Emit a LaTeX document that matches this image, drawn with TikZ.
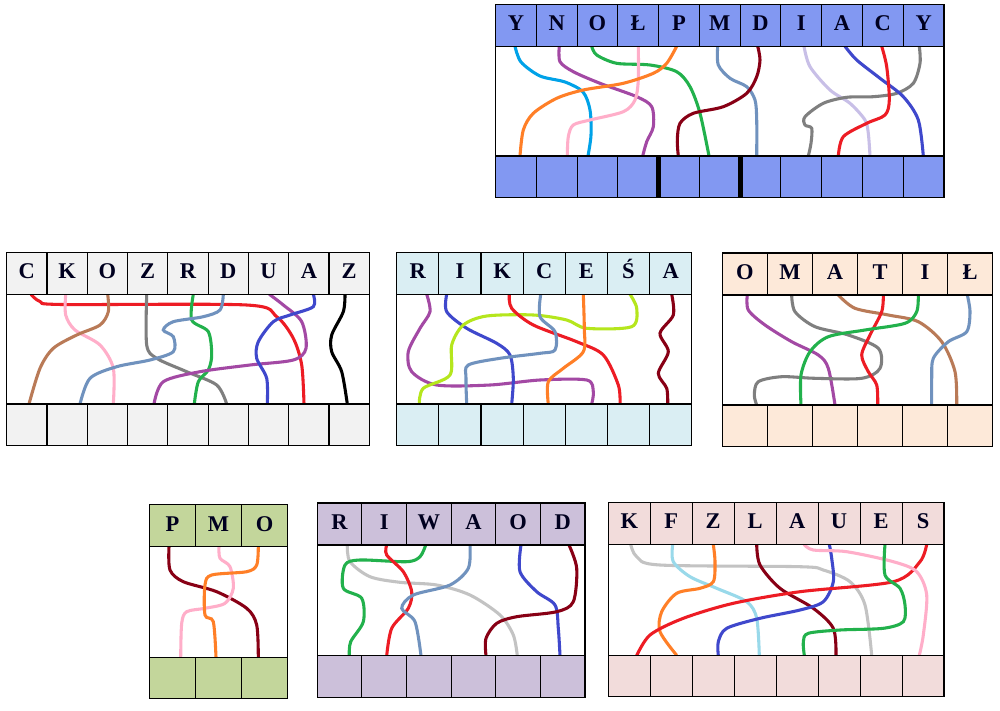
\documentclass[tikz,border=0pt]{standalone}
\usepackage{fontspec}
\setmainfont{Liberation Serif}
\definecolor{pRed}{HTML}{ED1C24}
\definecolor{pDarkRed}{HTML}{880015}
\definecolor{pOrange}{HTML}{FF7F27}
\definecolor{pGreen}{HTML}{22B14C}
\definecolor{pTurq}{HTML}{00A2E8}
\definecolor{pBlue}{HTML}{3F48CC}
\definecolor{pPurple}{HTML}{A349A4}
\definecolor{pPink}{HTML}{FFAEC9}
\definecolor{pBrown}{HTML}{B97A57}
\definecolor{pLime}{HTML}{B5E61D}
\definecolor{pLTurq}{HTML}{99D9EA}
\definecolor{pBlueGray}{HTML}{7092BE}
\definecolor{pLav}{HTML}{C8BFE7}
\definecolor{pGray}{HTML}{7F7F7F}
\definecolor{pLGray}{HTML}{C3C3C3}
\definecolor{fBlue}{RGB}{130,152,242}
\definecolor{fGray}{HTML}{F2F2F2}
\definecolor{fCyan}{HTML}{DAEEF3}
\definecolor{fPeach}{HTML}{FDE9D9}
\definecolor{fGreen}{HTML}{C3D69B}
\definecolor{fLav}{HTML}{CCC0DA}
\definecolor{fPink}{HTML}{F2DCDB}
\tikzset{
  wire/.style={line width=1.75pt},
  gridline/.style={draw=black, line width=0.6pt},
  lab/.style={anchor=base, inner sep=0pt, font=\fontsize{12.8}{13}\selectfont\bfseries, text=black!88!blue}
}
% #1 x0, #2 x1, #3 header bottom y, #4 bottom-row top y, #5 cells, #6 fill, #7 name prefix, #8 letters
\newcommand\mypanel[8]{%
  \pgfmathsetmacro\cw{(#2-#1)/#5}%
  \pgfmathtruncatemacro\nm{#5-1}%
  \fill[#6] (#1,#3-42) rectangle (#2,#3);
  \fill[#6] (#1,#4) rectangle (#2,#4+41.5);
  \foreach \i in {1,...,\nm}{%
    \draw[gridline] ({#1+\i*\cw},#3-42) -- ({#1+\i*\cw},#3);
    \draw[gridline] ({#1+\i*\cw},#4) -- ({#1+\i*\cw},#4+41.5);
  }
  \draw[gridline] (#1,#3-42) rectangle (#2,#4+41.5);
  \draw[gridline] (#1,#3) -- (#2,#3) (#1,#4) -- (#2,#4);
  \foreach \t [count=\i] in {#8}{%
    \node[lab] (#7\i) at ({#1+(\i-0.5)*\cw},#3-15.5) {\t};
  }
}
\begin{document}
\begin{tikzpicture}[x=0.02cm,y=-0.02cm]
\useasboundingbox (0,0) rectangle (1000,710);
\fill[white] (0,0) rectangle (1000,710);

% ---------- Panel 1 ----------
\draw[wire,pTurq] plot[smooth] coordinates {(515,46.3) (521,62) (540,76) (565,82) (583,92) (590,110) (591,135) (588,156)};
\draw[wire,pPurple] plot[smooth] coordinates {(559.3,46.3) (560,61.7) (573.3,71.7) (600,83.3) (636.7,96.7) (651.7,106.7) (653.3,126.7) (646.7,141.7) (642.7,156)};
\draw[wire,pGreen] plot[smooth] coordinates {(591.7,46.3) (596.7,55) (616.7,63.3) (650,65) (676.7,71.7) (690,86.7) (700,113.3) (709,156)};
\draw[wire,pPink] plot[smooth] coordinates {(638.3,46.3) (638.3,80) (635,100) (623.3,111.7) (590,120) (573.3,125) (568.3,136.7) (567.3,156)};
\draw[wire,pOrange] plot[smooth] coordinates {(676.7,46.3) (666.7,63.3) (653.3,73.3) (623.3,83.3) (583.3,90) (556.7,98.3) (533.3,113.3) (523.3,130) (520,156)};
\draw[wire,pBlueGray] plot[smooth] coordinates {(717.7,46.3) (718.3,65) (730,78.3) (746.7,86.7) (755,100) (756.7,120) (756.7,156)};
\draw[wire,pDarkRed] plot[smooth] coordinates {(757.7,46.3) (760,60) (756.7,76.7) (746.7,93.3) (723.3,106.7) (693.3,113.3) (680,123.3) (677.3,140) (678.3,156)};
\draw[wire,pLav] plot[smooth] coordinates {(804,46.3) (810,66.7) (830,90) (850,103.3) (865,120) (868.3,133.3) (870,156)};
\draw[wire,pGray] plot[smooth] coordinates {(919.3,46.3) (920,63.3) (913.3,83.3) (896.7,93.3) (873.3,96.7) (846.7,97.3) (823.3,103.3) (805,116.7) (805,125) (811.7,128.3) (811,143.3) (808.3,156)};
\draw[wire,pBlue] plot[smooth] coordinates {(845,46.3) (856.7,60) (880,78.3) (903.3,96.7) (918.3,120) (923.3,156)};
\draw[wire,pRed] plot[smooth] coordinates {(881.7,46.3) (886.7,66.7) (889.3,100) (885,115) (866.7,123.3) (843.3,136.7) (838.3,156)};
\mypanel{495.5}{944}{46.3}{156}{11}{fBlue}{a}{Y,N,O,Ł,P,M,D,I,A,C,Y}
\draw[line width=2.4pt] (658.5,156) -- (658.5,197.5);
\draw[line width=2.4pt] (740.5,156) -- (740.5,197.5);

% ---------- Panel 2 ----------
\draw[wire,pRed] plot[smooth] coordinates {(31,294.3) (40,301.5) (62,304.5) (246.7,305) (276.7,316.7) (293.3,338.3) (301.7,365) (304,404)};
\draw[wire,pPink] plot[smooth] coordinates {(65.7,294.3) (65.7,315) (75,330) (100,345) (113.3,368.3) (113.3,404)};
\draw[wire,pBrown] plot[smooth] coordinates {(107.7,294.3) (108.3,311.7) (100,325) (76.7,335) (53.3,348.3) (40,368.3) (29,404)};
\draw[wire,pGray] plot[smooth] coordinates {(146.7,294.3) (146.7,345) (156.7,358.3) (186.7,371.7) (216.7,385) (226.7,404)};
\draw[wire,pGreen] plot[smooth] coordinates {(193.3,294.3) (191.7,320) (208.3,331.7) (211.7,355) (208.3,370) (198.3,381.7) (194.3,404)};
\draw[wire,pBlueGray] plot[smooth] coordinates {(223.3,294.3) (220,310) (203.3,316.7) (173.3,321.7) (163.3,330) (173.3,336.7) (173.3,351.7) (150,360) (116.7,366.7) (90,378.3) (80,404)};
\draw[wire,pPurple] plot[smooth] coordinates {(269.3,294.3) (283.3,305) (301.7,321.7) (306,348.3) (293.3,360) (250,365) (200,371.7) (163.3,381.7) (154,404)};
\draw[wire,pBlue] plot[smooth] coordinates {(313.3,294.3) (313.3,306.7) (290,315) (273.3,321.7) (258.3,341.7) (256.7,358.3) (266.7,378.3) (267.3,404)};
\draw[wire,black] plot[smooth] coordinates {(345,294.3) (343.3,311.7) (331.7,335) (331.7,351.7) (341.7,371.7) (347.3,404)};
\mypanel{6.7}{369.3}{294.3}{404}{9}{fGray}{b}{C,K,O,Z,R,D,U,A,Z}

% ---------- Panel 3 ----------
\draw[wire,pPurple] plot[smooth] coordinates {(426.7,294.3) (430,311.7) (420,328.3) (408.3,351.7) (411.7,371.7) (436.7,385) (490,385) (540,380) (586.7,380) (593.3,391.7) (591.7,404)};
\draw[wire,pBlue] plot[smooth] coordinates {(446.7,294.3) (446.7,311.7) (466.7,328.3) (496.7,343.3) (510,355) (513.3,378.3) (511.7,404)};
\draw[wire,pLime] plot[smooth] coordinates {(630,294.3) (636.7,308.3) (631.7,326.7) (586.7,328.3) (566.7,320) (533.3,315) (486.7,316) (463.3,325) (451.7,345) (450,375) (423.3,388.3) (419.3,404)};
\draw[wire,pRed] plot[smooth] coordinates {(509.3,294.3) (511.7,308.3) (533.3,325) (576.7,341.7) (603.3,355) (618.3,385) (620,404)};
\draw[wire,pBlueGray] plot[smooth] coordinates {(540.7,294.3) (540,316.7) (555,331.7) (555,350) (540,353.3) (500,358.3) (468.3,365) (466,378.3) (466.7,404)};
\draw[wire,pOrange] plot[smooth] coordinates {(583.3,294.3) (584.3,328.3) (583.3,351.7) (563.3,368.3) (548.3,381.7) (548.3,404)};
\draw[wire,pDarkRed] plot[smooth] coordinates {(671.7,294.3) (673.3,315) (660,333.3) (668.3,351.7) (658.3,373.3) (666.7,388.3) (667.7,404)};
\mypanel{396.7}{691.7}{294.3}{404}{7}{fCyan}{c}{R,I,K,C,E,Ś,A}

% ---------- Panel 4 ----------
\draw[wire,pPurple] plot[smooth] coordinates {(747.3,295) (748.3,310) (765,325) (791.7,341.7) (818.3,355) (828.3,368.3) (835,405)};
\draw[wire,pGray] plot[smooth] coordinates {(791.7,295) (795,311.7) (815,326.7) (848.3,335) (878.3,348.3) (880,368.3) (861.7,378.3) (815,378.3) (781.7,376.7) (758.3,381.7) (754.3,395) (756.7,405)};
\draw[wire,pBrown] plot[smooth] coordinates {(838.3,295) (855,308.3) (888.3,315) (918.3,321.7) (941.7,341.7) (955,371.7) (956.7,405)};
\draw[wire,pRed] plot[smooth] coordinates {(883.3,295) (881.7,311.7) (870,335) (861.7,355) (868.3,371.7) (876.7,385) (877.7,405)};
\draw[wire,pGreen] plot[smooth] coordinates {(918.3,295) (916.7,311.7) (905,323.3) (865,330) (828.3,336.7) (810,351.7) (801,375) (801,405)};
\draw[wire,pBlueGray] plot[smooth] coordinates {(967.3,295) (970,311.7) (966.7,331.7) (948.3,341.7) (933.3,358.3) (931.7,378.3) (931.7,405)};
\mypanel{722.3}{992.7}{295}{405}{6}{fPeach}{d}{O,M,A,T,I,Ł}

% ---------- Panel 5 ----------
\draw[wire,pDarkRed] plot[smooth] coordinates {(169,546.7) (170,570) (183.3,581.7) (216.7,591.7) (246.7,608.3) (256.7,625) (258.3,657.3)};
\draw[wire,pPink] plot[smooth] coordinates {(219,546.7) (220,558.3) (230,566.7) (233.3,588.3) (225,603.3) (205,608.3) (186.7,611.7) (181.7,623.3) (180.7,657.3)};
\draw[wire,pOrange] plot[smooth] coordinates {(258.3,546.7) (256.7,565) (246.7,571.7) (211.7,575) (205,585) (205,615) (213.3,621.7) (216,657.3)};
\mypanel{149.3}{287.7}{546.7}{657.3}{3}{fGreen}{e}{P,M,O}

% ---------- Panel 6 ----------
\draw[wire,pLGray] plot[smooth] coordinates {(347.3,545) (350,561.7) (370,576.7) (400,582.3) (436.7,585) (470,595) (500,615) (513.3,635) (517.3,655.7)};
\draw[wire,pGreen] plot[smooth] coordinates {(425.7,545) (420,556.7) (406.7,561.7) (360,560) (345,565) (343.3,588.3) (361.7,598.3) (363.3,621.7) (350.7,641.7) (349.3,655.7)};
\draw[wire,pRed] plot[smooth] coordinates {(386.7,545) (386.7,555) (403.3,571.7) (411.7,591.7) (408.3,608.3) (391.7,628.3) (386.7,655.7)};
\draw[wire,pBlueGray] plot[smooth] coordinates {(470,545) (468.3,568.3) (450,585) (413.3,595) (401.7,608.3) (415,621.7) (421,655.7)};
\draw[wire,pBlue] plot[smooth] coordinates {(521,545) (520,571.7) (536.7,591.7) (555,605) (558.3,628.3) (560,655.7)};
\draw[wire,pDarkRed] plot[smooth] coordinates {(569,545) (576.7,568.3) (573.3,601.7) (556.7,611.7) (516.7,616.7) (496.7,623.3) (486,638.3) (486,655.7)};
\mypanel{317.3}{585}{545}{655.7}{6}{fLav}{f}{R,I,W,A,O,D}

% ---------- Panel 7 ----------
\draw[wire,pLGray] plot[smooth] coordinates {(630.7,544.3) (636.7,556.7) (660,565) (800,566.7) (823.3,570) (850,581.7) (865,605) (871.7,655.3)};
\draw[wire,pLTurq] plot[smooth] coordinates {(672.7,544.3) (673.3,561.7) (690,576.7) (716.7,588.3) (746.7,601.7) (756.7,618.3) (759.3,655.3)};
\draw[wire,pOrange] plot[smooth] coordinates {(713.3,544.3) (715,561.7) (713.3,581.7) (700,588.3) (676.7,593.3) (661.7,611.7) (660,631.7) (676.7,655.3)};
\draw[wire,pDarkRed] plot[smooth] coordinates {(756.7,544.3) (760,565) (780,588.3) (813.3,608.3) (833.3,628.3) (836,655.3)};
\draw[wire,pBlue] plot[smooth] coordinates {(829.3,544.3) (831.7,558.3) (833.3,581.7) (823.3,601.7) (800,610) (760,618.3) (726.7,628.3) (718.3,641.7) (718.3,655.3)};
\draw[wire,pRed] plot[smooth] coordinates {(926.7,544.3) (920,561.7) (893.3,581.7) (800,591.7) (733.3,603.3) (683.3,618.3) (650,635) (636,657)};
\draw[wire,pPink] plot[smooth] coordinates {(804,544.3) (813.3,550) (846.7,551.7) (893.3,561.7) (916.7,571.7) (926.7,595) (923.3,635) (919.3,655.3)};
\draw[wire,pGreen] plot[smooth] coordinates {(885,544.3) (885,575) (900,588.3) (905,605) (903.3,621.7) (883.3,628.3) (840,630) (808.3,633.3) (803.3,641.7) (804.3,655.3)};
\mypanel{608.3}{944}{544.3}{655.3}{8}{fPink}{g}{K,F,Z,L,A,U,E,S}
\end{tikzpicture}
\end{document}
